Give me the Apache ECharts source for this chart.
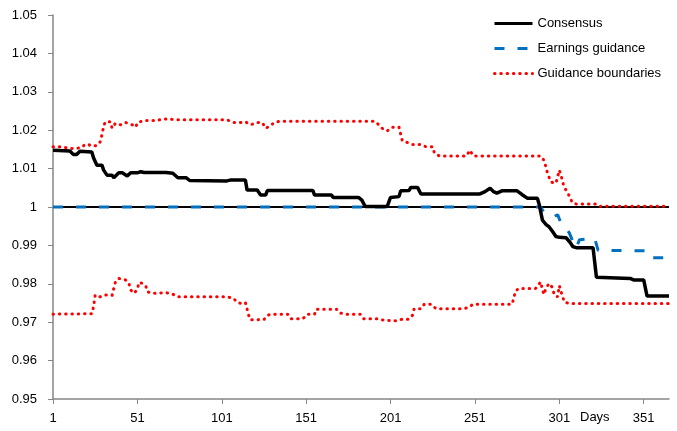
<!DOCTYPE html>
<html>
<head>
<meta charset="utf-8">
<script src="https://cdn.jsdelivr.net/npm/echarts@6/dist/echarts.min.js"></script>
<style>
    html, body { margin: 0; padding: 0; background: #fff; }
    #chart { width: 677px; height: 431px; }
</style>
</head>
<body>
<div id="chart"></div>
<script>

// day numbers on the x axis, labels every 50 days
var dayCount = 366;

// [day, value]
var consensus = [
    [1, 1.0148], [11, 1.0146], [13, 1.0137], [15, 1.0137], [17, 1.0145], [24, 1.0143],
    [25, 1.0128], [27, 1.0109], [30, 1.0109], [31, 1.0096], [33, 1.0083], [36, 1.0083],
    [37, 1.0076], [40, 1.0089], [42, 1.0089], [45, 1.0081], [47, 1.0089], [51, 1.0089],
    [53, 1.0092], [55, 1.009], [68, 1.009], [69, 1.0093], [72, 1.0088], [75, 1.0076],
    [80, 1.0076], [81, 1.0079], [82, 1.0069], [104, 1.0068], [106, 1.007], [115, 1.007],
    [116, 1.0044], [122, 1.0044], [124, 1.0031], [127, 1.0031], [128, 1.0043], [155, 1.0043],
    [156, 1.0031], [166, 1.0031], [167, 1.0025], [182, 1.0025], [184, 1.0018], [186, 1.0001],
    [199, 1.0001], [201, 1.0025], [206, 1.0027], [207, 1.0042], [212, 1.0043], [213, 1.0051],
    [217, 1.0051], [219, 1.0034], [254, 1.0034], [257, 1.004], [260, 1.0049], [262, 1.004],
    [264, 1.0036], [267, 1.0042], [276, 1.0042], [279, 1.0032], [282, 1.0023], [288, 1.0023],
    [289, 1.0008], [291, 0.9966], [293, 0.9955], [295, 0.9948], [297, 0.9936], [299, 0.9923],
    [301, 0.9921], [305, 0.992], [307, 0.991], [309, 0.9897], [311, 0.9894], [321, 0.9894],
    [323, 0.9817], [343, 0.9814], [345, 0.981], [351, 0.981], [353, 0.9768], [366, 0.9768]
];

var guidance = [
    [1, 1], [290, 1], [292, 0.9985], [294, 0.998], [296, 0.9978], [298, 0.9975],
    [300, 0.998], [302, 0.9958], [305, 0.9945], [307, 0.9932], [309, 0.991], [311, 0.9893],
    [313, 0.9915], [322, 0.9918], [324, 0.9887], [352, 0.9886], [354, 0.9868], [366, 0.9868]
];

var upperBound = [
    [1, 1.0157], [6, 1.0157], [10, 1.0153], [14, 1.0152], [18, 1.0155], [20, 1.0163],
    [22, 1.0163], [24, 1.0158], [27, 1.016], [29, 1.017], [30, 1.0188], [31, 1.021],
    [32, 1.0222], [35, 1.0222], [36, 1.0205], [38, 1.0218], [41, 1.0214], [44, 1.022],
    [48, 1.0214], [50, 1.0208], [51, 1.022], [55, 1.0225], [62, 1.0225], [66, 1.0229],
    [70, 1.0229], [74, 1.0227], [104, 1.0227], [108, 1.022], [112, 1.022], [115, 1.0222],
    [118, 1.0214], [122, 1.022], [125, 1.022], [127, 1.0205], [130, 1.0212], [132, 1.022],
    [135, 1.0223], [192, 1.0223], [196, 1.0205], [199, 1.0198], [202, 1.0208], [206, 1.0208],
    [207, 1.019], [208, 1.0172], [211, 1.0168], [214, 1.0163], [218, 1.0163], [222, 1.0157],
    [226, 1.0157], [227, 1.014], [230, 1.0133], [246, 1.0133], [248, 1.0148], [250, 1.0133],
    [290, 1.0133], [292, 1.0121], [293, 1.0105], [294, 1.0088], [296, 1.0065], [299, 1.0062],
    [300, 1.0078], [301, 1.0096], [302, 1.0083], [303, 1.0065], [304, 1.005], [306, 1.0039],
    [307, 1.0026], [309, 1.001], [311, 1.0008], [323, 1.0008], [325, 1.0002], [366, 1.0002]
];

var lowerBound = [
    [1, 0.9721], [24, 0.9722], [25, 0.974], [26, 0.9771], [29, 0.9766], [32, 0.9771],
    [36, 0.977], [37, 0.9788], [38, 0.9805], [40, 0.9814], [44, 0.981], [46, 0.9801],
    [47, 0.9784], [49, 0.9775], [51, 0.9786], [52, 0.9804], [54, 0.9801], [56, 0.9794],
    [57, 0.9779], [60, 0.9775], [68, 0.9777], [72, 0.9773], [75, 0.9766], [104, 0.9766],
    [108, 0.9762], [110, 0.9752], [113, 0.9748], [115, 0.9751], [116, 0.9734], [117, 0.9717],
    [118, 0.9706], [126, 0.9707], [128, 0.9718], [131, 0.9721], [140, 0.9721], [142, 0.9709],
    [149, 0.9709], [152, 0.9721], [156, 0.9721], [157, 0.9734], [169, 0.9734], [171, 0.9724],
    [175, 0.9721], [183, 0.9721], [185, 0.9709], [193, 0.9709], [196, 0.9706], [201, 0.9704],
    [205, 0.9704], [208, 0.9708], [212, 0.9708], [214, 0.9718], [215, 0.9735], [219, 0.9735],
    [221, 0.9747], [225, 0.9747], [228, 0.9735], [244, 0.9735], [247, 0.9738], [250, 0.9747],
    [273, 0.9747], [274, 0.9762], [275, 0.9781], [277, 0.9788], [287, 0.9788], [290, 0.9805],
    [291, 0.9784], [292, 0.9772], [293, 0.9788], [295, 0.9801], [297, 0.979], [298, 0.9771],
    [300, 0.9766], [301, 0.9795], [302, 0.978], [303, 0.9766], [304, 0.9752], [307, 0.9749],
    [366, 0.9749]
];

var baseLine = [[1, 1], [366, 1]];

var legendNames = ['Consensus', 'Earnings guidance', 'Guidance boundaries'];

function toCat(list) {
    return list.map(function (p) { return [String(p[0]), p[1]]; });
}

function drawChart() {
    var chart = echarts.init(document.getElementById('chart'));

    var days = [];
    for (var i = 1; i <= dayCount; i++) days.push(String(i));

    var font = 'Liberation Sans, Arial, sans-serif';
    var dotted = { color: '#ff0000', width: 3, type: [0.5, 5.8], cap: 'round' };

    var option = {
        animation: false,
        backgroundColor: '#fff',
        grid: { left: 53, top: 15, right: 8, bottom: 32 },
        legend: {
            data: legendNames,
            orient: 'vertical',
            left: 488,
            top: 12,
            itemWidth: 38,
            itemHeight: 14,
            itemGap: 12,
            // line only in the key, no marker
            itemStyle: { opacity: 0 },
            lineStyle: { width: 3 },
            textStyle: { fontFamily: font, fontSize: 13, color: '#000' }
        },
        graphic: [{
            type: 'text',
            left: 580,
            top: 411,
            style: { text: 'Days', font: '13px ' + font, fill: '#000' }
        }],
        xAxis: {
            type: 'category',
            data: days,
            boundaryGap: false,
            axisLine: { lineStyle: { color: '#868686', width: 1.5 } },
            axisTick: { interval: 49, length: 5, lineStyle: { color: '#868686' } },
            axisLabel: { interval: 49, margin: 13, fontFamily: font, fontSize: 13, color: '#000' },
            splitLine: { show: false }
        },
        yAxis: {
            type: 'value',
            min: 0.95,
            max: 1.05,
            interval: 0.01,
            axisLine: { show: true, lineStyle: { color: '#868686', width: 1.5 } },
            axisTick: { show: true, length: 5, lineStyle: { color: '#868686' } },
            axisLabel: {
                margin: 16, fontFamily: font, fontSize: 13, color: '#000',
                formatter: function (v) { return String(+v.toFixed(2)); }
            },
            splitLine: { show: false }
        },
        series: [
            {
                name: 'base',
                type: 'line',
                data: toCat(baseLine),
                symbol: 'none',
                silent: true,
                z: 1,
                lineStyle: { color: '#000', width: 2 }
            },
            {
                name: 'Guidance boundaries',
                type: 'line',
                data: toCat(upperBound),
                symbol: 'none',
                z: 2,
                color: '#ff0000',
                lineStyle: dotted
            },
            {
                name: 'Guidance boundaries',
                type: 'line',
                data: toCat(lowerBound),
                symbol: 'none',
                z: 2,
                color: '#ff0000',
                lineStyle: dotted
            },
            {
                name: 'Earnings guidance',
                type: 'line',
                data: toCat(guidance),
                symbol: 'none',
                z: 3,
                color: '#0070c0',
                lineStyle: { color: '#0070c0', width: 3, type: [10, 13] }
            },
            {
                name: 'Consensus',
                type: 'line',
                data: toCat(consensus),
                symbol: 'none',
                z: 4,
                color: '#000',
                lineStyle: { color: '#000', width: 3.5 }
            }
        ]
    };
    chart.setOption(option);
}

drawChart();

</script>
</body>
</html>
